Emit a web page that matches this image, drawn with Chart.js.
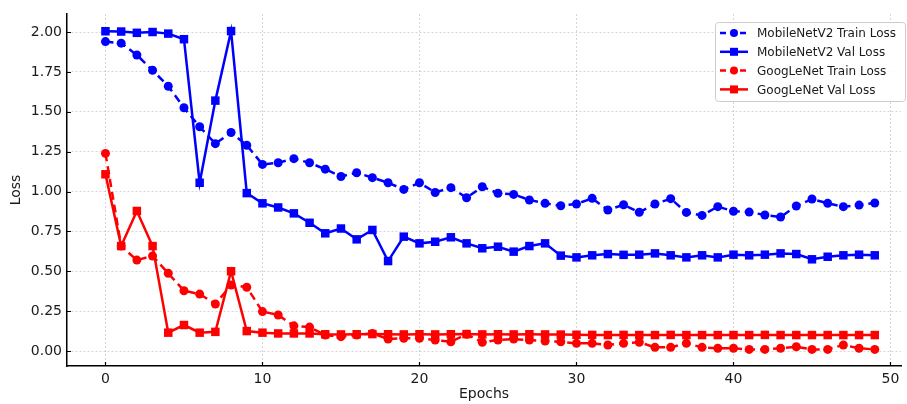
<!DOCTYPE html>
<html>
<head>
<meta charset="utf-8">
<script src="https://cdn.jsdelivr.net/npm/chart.js@4"></script>
<style>
  html, body { margin: 0; padding: 0; background: #fff; }
  #wrap { width: 907px; height: 404px; }
</style>
</head>
<body>
<div id="wrap"><canvas id="lossChart"></canvas></div>
<script>
const epochs = Array.from({ length: 50 }, (_, i) => i);

const mobileTrain = [1.94, 1.93, 1.856, 1.76, 1.66, 1.525, 1.406, 1.30, 1.37, 1.29,
  1.17, 1.18, 1.206, 1.18, 1.14, 1.094, 1.118, 1.087, 1.055, 1.013,
  1.055, 0.994, 1.024, 0.961, 1.03, 0.989, 0.982, 0.947, 0.926, 0.911,
  0.922, 0.957, 0.884, 0.917, 0.87, 0.922, 0.955, 0.869, 0.85, 0.905,
  0.876, 0.871, 0.853, 0.84, 0.909, 0.953, 0.926, 0.905, 0.915, 0.928];

const mobileVal = [2.005, 2.003, 1.995, 2.0, 1.99, 1.955, 1.055, 1.57, 2.006, 0.99,
  0.926, 0.90, 0.863, 0.804, 0.738, 0.768, 0.70, 0.759, 0.564, 0.717,
  0.675, 0.685, 0.713, 0.675, 0.644, 0.654, 0.623, 0.658, 0.675, 0.598,
  0.587, 0.60, 0.608, 0.603, 0.604, 0.612, 0.60, 0.587, 0.60, 0.587,
  0.604, 0.60, 0.604, 0.612, 0.608, 0.575, 0.591, 0.60, 0.604, 0.60];

const googTrain = [1.239, 0.658, 0.57, 0.596, 0.487, 0.378, 0.357, 0.295, 0.414, 0.40,
  0.247, 0.226, 0.158, 0.15, 0.10, 0.09, 0.10, 0.11, 0.075, 0.08,
  0.08, 0.069, 0.058, 0.105, 0.055, 0.069, 0.075, 0.069, 0.063, 0.058,
  0.048, 0.048, 0.038, 0.048, 0.055, 0.023, 0.023, 0.048, 0.023, 0.017,
  0.017, 0.01, 0.01, 0.017, 0.027, 0.01, 0.01, 0.038, 0.017, 0.01];

const googVal = [1.108, 0.658, 0.878, 0.658, 0.115, 0.163, 0.115, 0.12, 0.50, 0.125,
  0.115, 0.11, 0.11, 0.11, 0.105, 0.104, 0.105, 0.106, 0.105, 0.104,
  0.105, 0.104, 0.105, 0.106, 0.104, 0.105, 0.104, 0.105, 0.104, 0.103,
  0.102, 0.101, 0.10, 0.101, 0.10, 0.10, 0.101, 0.10, 0.10, 0.10,
  0.10, 0.10, 0.101, 0.10, 0.10, 0.10, 0.10, 0.10, 0.10, 0.10];

const seriesNames = ["MobileNetV2 Train Loss", "MobileNetV2 Val Loss", "GoogLeNet Train Loss", "GoogLeNet Val Loss"];
const xTicks = [0, 10, 20, 30, 40, 50];
const yTicks = [0, 0.25, 0.5, 0.75, 1.0, 1.25, 1.5, 1.75, 2.0];

const BLUE = "#0000ff";
const RED = "#ff0000";
const DASH = [8, 5];
const TEXT = "#1a1a1a";

function toPoints(values) {
  return values.map((v, i) => ({ x: epochs[i], y: v }));
}

function makeSet(label, values, color, dashed, order) {
  return {
    label: label,
    data: toPoints(values),
    borderColor: color,
    backgroundColor: color,
    borderWidth: 2.5,
    borderDash: dashed ? DASH : [],
    pointStyle: dashed ? "circle" : "rect",
    pointRadius: dashed ? 4.5 : 6,
    pointBorderWidth: 0,
    tension: 0,
    order: order,
  };
}

// legend drawn like matplotlib's box in the upper right
const legendBox = {
  id: "legendBox",
  afterDraw(chart) {
    const ctx = chart.ctx;
    const sets = chart.data.datasets;
    const x0 = 715, y0 = 22, w = 190, h = 79;
    ctx.save();
    ctx.fillStyle = "rgba(255,255,255,0.9)";
    ctx.strokeStyle = "#cccccc";
    ctx.lineWidth = 1;
    ctx.beginPath();
    ctx.roundRect(x0 + 0.5, y0 + 0.5, w, h, 3);
    ctx.fill();
    ctx.stroke();
    ctx.font = "12px 'DejaVu Sans'";
    ctx.textBaseline = "middle";
    ctx.textAlign = "left";
    sets.forEach((ds, i) => {
      const y = y0 + 11 + i * 18.8;
      ctx.strokeStyle = ds.borderColor;
      ctx.lineWidth = 2.5;
      ctx.setLineDash(ds.borderDash.length ? [6, 4] : []);
      ctx.beginPath();
      ctx.moveTo(720, y);
      ctx.lineTo(748, y);
      ctx.stroke();
      ctx.setLineDash([]);
      ctx.fillStyle = ds.borderColor;
      ctx.beginPath();
      if (ds.pointStyle === "circle") {
        ctx.arc(734, y, 4, 0, Math.PI * 2);
      } else {
        ctx.rect(730, y - 4, 8, 8);
      }
      ctx.fill();
      ctx.fillStyle = TEXT;
      ctx.fillText(ds.label, 757, y + 1);
    });
    ctx.restore();
  },
};

// short inward tick marks
const inwardTicks = {
  id: "inwardTicks",
  afterDraw(chart) {
    const ctx = chart.ctx;
    const { left, bottom } = chart.chartArea;
    const xs = chart.scales.x, ys = chart.scales.y;
    ctx.save();
    ctx.strokeStyle = "#000";
    ctx.lineWidth = 1.2;
    ctx.beginPath();
    xTicks.forEach((v) => {
      const px = Math.round(xs.getPixelForValue(v)) + 0.5;
      ctx.moveTo(px, bottom);
      ctx.lineTo(px, bottom - 4);
    });
    yTicks.forEach((v) => {
      const py = Math.round(ys.getPixelForValue(v)) + 0.5;
      ctx.moveTo(left, py);
      ctx.lineTo(left + 4, py);
    });
    ctx.stroke();
    ctx.restore();
  },
};

const ctx = document.getElementById("lossChart").getContext("2d");

new Chart(ctx, {
  type: "line",
  data: {
    datasets: [
      makeSet(seriesNames[0], mobileTrain, BLUE, true, 4),
      makeSet(seriesNames[1], mobileVal, BLUE, false, 3),
      makeSet(seriesNames[2], googTrain, RED, true, 2),
      makeSet(seriesNames[3], googVal, RED, false, 1),
    ],
  },
  options: {
    responsive: true,
    maintainAspectRatio: false,
    animation: false,
    plugins: {
      legend: { display: false },
      tooltip: { enabled: false },
    },
    layout: {
      padding: { top: 14, right: 0, bottom: 0, left: 0 },
    },
    scales: {
      x: {
        type: "linear",
        min: -2.45,
        max: 50.67,
        afterBuildTicks: (axis) => {
          axis.ticks = xTicks.map((v) => ({ value: v }));
        },
        afterFit: (axis) => {
          axis.height = 38;
        },
        grid: {
          color: "rgba(0, 0, 0, 0.16)",
          lineWidth: 1,
          drawTicks: false,
        },
        border: { color: "#000", width: 1.5, dash: [2, 2] },
        ticks: {
          padding: 5,
          color: TEXT,
          font: { family: "DejaVu Sans", size: 14 },
          maxRotation: 0,
          callback: (v) => String(v),
        },
        title: {
          display: true,
          text: "Epochs",
          color: TEXT,
          font: { family: "DejaVu Sans", size: 14 },
          padding: { top: 0, bottom: 1 },
        },
      },
      y: {
        min: -0.094,
        max: 2.113,
        afterBuildTicks: (axis) => {
          axis.ticks = yTicks.map((v) => ({ value: v }));
        },
        afterFit: (axis) => {
          axis.width = 67;
        },
        grid: {
          color: "rgba(0, 0, 0, 0.16)",
          lineWidth: 1,
          drawTicks: false,
        },
        border: { color: "#000", width: 1.5, dash: [2, 2] },
        ticks: {
          padding: 5,
          color: TEXT,
          font: { family: "DejaVu Sans", size: 14 },
          callback: (v) => v.toFixed(2),
        },
        title: {
          display: true,
          text: "Loss",
          color: TEXT,
          font: { family: "DejaVu Sans", size: 14 },
          padding: { top: 8, bottom: 0 },
        },
      },
    },
  },
  plugins: [inwardTicks, legendBox],
});
</script>
</body>
</html>
